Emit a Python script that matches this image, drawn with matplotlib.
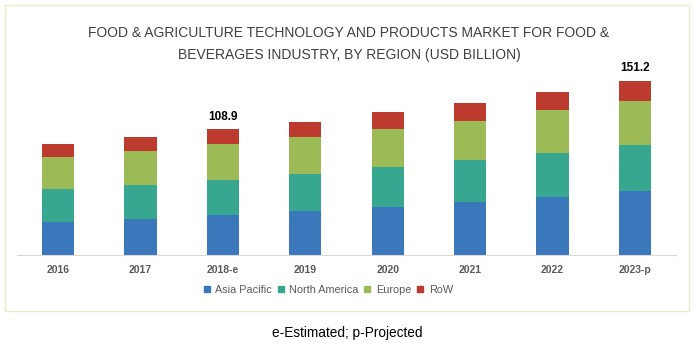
import matplotlib.pyplot as plt
import numpy as np
from matplotlib.patches import Rectangle
from matplotlib.lines import Line2D

years = ['2016', '2017', '2018-e', '2019', '2020', '2021', '2022', '2023-p']
asia_pacific = [28.9, 31.0, 34.5, 38.2, 41.9, 46.2, 50.6, 55.5]
north_america = [28.4, 29.8, 30.7, 32.4, 34.2, 35.9, 38.2, 40.2]
europe = [27.5, 29.5, 31.0, 31.8, 33.2, 34.4, 36.8, 38.2]
row = [11.3, 12.1, 12.7, 13.3, 14.5, 15.1, 15.6, 17.3]
labelled = {2: '108.9', 7: '151.2'}

series = [('Asia Pacific', asia_pacific, '#3a77bb'),
          ('North America', north_america, '#38a78f'),
          ('Europe', europe, '#9cbb57'),
          ('RoW', row, '#bd3a2f')]

plt.rcParams['font.family'] = ['Liberation Sans', 'DejaVu Sans']

fig = plt.figure(figsize=(6.94, 3.46), dpi=100)
W, H = 694, 346
ax = fig.add_axes([17 / W, 91 / H, 659 / W, 184.4 / H])

x = np.arange(len(years))
bottom = np.zeros(len(years))
for name, vals, col in series:
    ax.bar(x, vals, 0.39, bottom=bottom, color=col, label=name)
    bottom += np.array(vals)

for i, txt in labelled.items():
    ax.text(x[i], bottom[i] + 6, txt, ha='center', va='bottom',
            fontsize=8.5, fontweight='bold', color='black')

ax.set_xlim(-0.5, 7.5)
ax.set_ylim(0, 160)
ax.set_yticks([])
ax.set_xticks(x)
ax.set_xticklabels(years, fontsize=7.5, fontweight='bold', color='#595959')
ax.tick_params(axis='x', length=0, pad=7)
for s in ['top', 'right', 'left']:
    ax.spines[s].set_visible(False)
ax.spines['bottom'].set_color('#d9d9d9')
ax.set_facecolor('none')

handles = [Line2D([], [], marker='s', linestyle='none', markersize=5,
                  color=c) for _, _, c in series]
fig.legend(handles, [n for n, _, _ in series], loc='center',
           bbox_to_anchor=(327 / W, 1 - 290 / H), ncol=4, frameon=False,
           fontsize=7.8, handletextpad=0.3, columnspacing=0.3,
           handlelength=1.0, labelcolor='#595959')

fig.text(349 / W, 1 - 33 / H,
         'FOOD & AGRICULTURE TECHNOLOGY AND PRODUCTS MARKET FOR FOOD &',
         ha='center', va='center', fontsize=10, color='#404040')
fig.text(349 / W, 1 - 55 / H,
         'BEVERAGES INDUSTRY, BY REGION (USD BILLION)',
         ha='center', va='center', fontsize=10, color='#404040')

fig.text(347 / W, 1 - 333 / H, 'e-Estimated; p-Projected',
         ha='center', va='center', fontsize=9.8, color='black')

# panel border
fig.patches.append(Rectangle((5 / W, 1 - 311 / H), 684 / W, 306 / H,
                             transform=fig.transFigure, fill=False,
                             edgecolor='#ecebc8', linewidth=1))

fig.savefig('out.png', dpi=100)
